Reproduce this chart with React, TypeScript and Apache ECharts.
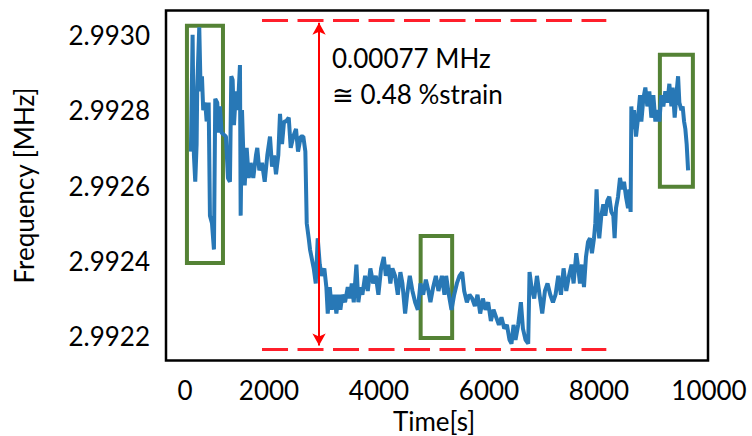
import React, { useEffect, useRef } from "react";
import * as echarts from "echarts";

// Time [s]
const times = [
  580, 611, 635, 659, 684, 695, 732, 757, 781, 804,
  841, 866, 903, 926, 963, 999, 1023, 1059, 1085, 1108,
  1139, 1217, 1254, 1290, 1314, 1339, 1363, 1399, 1423, 1449,
  1472, 1485, 1509, 1532, 1558, 1594, 1631, 1667, 1714, 1763,
  1787, 1824, 1873, 1922, 1969, 2018, 2055, 2091, 2127, 2169,
  2200, 2237, 2273, 2309, 2359, 2395, 2442, 2491, 2528, 2577,
  2624, 2661, 2686, 2722, 2746,
  2813, 2850, 2886, 2923, 2959, 3006, 3043, 3068, 3105, 3141,
  3188, 3225, 3261, 3298, 3334, 3383, 3432, 3469, 3505, 3541,
  3589, 3625, 3661, 3698, 3747, 3796, 3843, 3893, 3942, 3989,
  4038, 4087, 4124, 4171, 4207, 4244, 4293, 4342, 4389, 4426,
  4475, 4511, 4560, 4608, 4657, 4706, 4753, 4803, 4852, 4899,
  4935, 4985, 5034, 5081, 5143, 5190,
  5221, 5270, 5318, 5367, 5416, 5463, 5512, 5549, 5598, 5645,
  5694, 5743, 5791, 5840, 5889, 5936, 5985, 6034, 6082, 6131,
  6180, 6227, 6277, 6326, 6373, 6409, 6446, 6482, 6531, 6580,
  6617, 6664, 6713, 6737, 6773, 6822, 6872, 6919, 6968, 7017,
  7064, 7114, 7163, 7210, 7259, 7308, 7356, 7405, 7454, 7501,
  7538, 7587, 7623,
  7654, 7691, 7727, 7763, 7800, 7836, 7872, 7909, 7933, 7956,
  7982, 8005, 8042, 8078, 8115, 8151, 8187, 8224, 8260, 8284,
  8309, 8346, 8382, 8418, 8455, 8491, 8528, 8551, 8575, 8588,
  8611, 8637, 8673, 8710, 8746, 8770, 8806, 8843, 8879, 8915,
  8952, 8988, 9025, 9061, 9097, 9134, 9170, 9206, 9243, 9279,
  9316, 9339, 9376, 9412, 9438, 9461, 9498, 9521, 9547, 9570,
  9594, 9620,
];

// Frequency [MHz]
const freqs = [
  2.99269, 2.993, 2.99268, 2.99261, 2.99271, 2.99286, 2.99302, 2.99285, 2.99289, 2.9928,
  2.99282, 2.99277, 2.99282, 2.99252, 2.9925, 2.99243, 2.99283, 2.99282, 2.99274, 2.99281,
  2.99274, 2.99273, 2.99262, 2.99261, 2.99289, 2.99288, 2.99276, 2.99285, 2.9928, 2.99285,
  2.99292, 2.99252, 2.9928, 2.99269, 2.9926, 2.9927, 2.99262, 2.99266, 2.99262, 2.99268,
  2.9927, 2.99264, 2.99266, 2.99261, 2.99268, 2.99273, 2.99265, 2.99268, 2.99263, 2.99268,
  2.99279, 2.99271, 2.99277, 2.99277, 2.99278, 2.9927, 2.99273, 2.99275, 2.99269, 2.99273,
  2.99273, 2.99269, 2.9925, 2.99246, 2.99243,
  2.99238, 2.99234, 2.99246, 2.99239, 2.99236, 2.99238, 2.99233, 2.99226, 2.99233, 2.99227,
  2.99231, 2.99226, 2.99231, 2.99227, 2.99231, 2.99229, 2.99233, 2.9923, 2.99234, 2.99229,
  2.99239, 2.99229, 2.99233, 2.99231, 2.99236, 2.99232, 2.99238, 2.99234, 2.99236, 2.99231,
  2.99238, 2.99241, 2.99236, 2.99239, 2.99234, 2.99238, 2.99236, 2.99231, 2.99237, 2.99234,
  2.99226, 2.99231, 2.99236, 2.99232, 2.99229, 2.99227, 2.99234, 2.99231, 2.99235, 2.99232,
  2.99229, 2.99233, 2.99236, 2.99232, 2.99236, 2.99231,
  2.99236, 2.99231, 2.99227, 2.99231, 2.99234, 2.99236, 2.99237, 2.99232, 2.99229, 2.99231,
  2.9923, 2.99228, 2.99231, 2.99226, 2.9923, 2.99227, 2.99229, 2.99224, 2.99227, 2.99225,
  2.99223, 2.99225, 2.99222, 2.99223, 2.99219, 2.99218, 2.99223, 2.99219, 2.99223, 2.99229,
  2.99222, 2.99219, 2.99218, 2.99237, 2.99233, 2.9923, 2.99236, 2.99231, 2.99226, 2.99232,
  2.99234, 2.99231, 2.99229, 2.99231, 2.99236, 2.99231, 2.99238, 2.99232, 2.99236, 2.99239,
  2.99234, 2.99242, 2.99238,
  2.99234, 2.99239, 2.99233, 2.99241, 2.99245, 2.99246, 2.99242, 2.99246, 2.9925, 2.99259,
  2.9925, 2.99246, 2.99252, 2.99255, 2.99252, 2.99256, 2.99257, 2.99253, 2.99252, 2.99246,
  2.99254, 2.99257, 2.99262, 2.99259, 2.99261, 2.99257, 2.99254, 2.99259, 2.99253, 2.99281,
  2.99275, 2.9928, 2.99273, 2.99278, 2.99284, 2.99277, 2.99283, 2.99286, 2.99281, 2.99285,
  2.99278, 2.99284, 2.99277, 2.9928, 2.99277, 2.99284, 2.99281, 2.99285, 2.99282, 2.99287,
  2.99281, 2.99286, 2.99278, 2.99285, 2.99289, 2.99282, 2.9928, 2.99281, 2.99277, 2.99275,
  2.99271, 2.99264,
];

// Axis ranges and tick labels
const xTicks = { min: 0, max: 10000, interval: 2000 };
const yRange = { min: 2.992134, max: 2.993066 };
const yTickValues = [2.9922, 2.9924, 2.9926, 2.9928, 2.993];

// Highlight boxes: [tStart, fTop, tEnd, fBottom]
const boxes = [
  [508, 2.993024, 1163, 2.992394],
  [4757, 2.992466, 5330, 2.992195],
  [9107, 2.992947, 9707, 2.992597],
];

// Range annotation (red)
const rangeX = [1873, 8133];
const rangeTop = 2.99304;
const rangeBottom = 2.992164;
const arrowX = 2910;
const arrowTop = 2.993032;
const arrowBottom = 2.992175;
const annotationText = "0.00077 MHz\n≅ 0.48 %strain";

const FONT = "Lato, 'Noto Sans', 'DejaVu Sans', sans-serif";

export default function App() {
  const ref = useRef<HTMLDivElement>(null);
  useEffect(() => {
    if (!ref.current) return;
    const chart = echarts.init(ref.current, undefined, { renderer: "svg" });
    const n = Math.min(times.length, freqs.length);
    const data: number[][] = [];
    for (let i = 0; i < n; i++) data.push([times[i], freqs[i]]);

    const dashStyle = { color: "#ff1f2b", width: 3, type: [26, 9.5] };

    chart.setOption({
      animation: false,
      backgroundColor: "#ffffff",
      grid: { left: 159, right: 43, top: 10, bottom: 75, outerBoundsMode: "none", containLabel: false },
      xAxis: {
        type: "value",
        min: xTicks.min,
        max: xTicks.max,
        interval: xTicks.interval,
        name: "Time[s]",
        nameLocation: "middle",
        nameGap: 46,
        nameTextStyle: { fontFamily: FONT, fontSize: 26, lineHeight: 26, color: "#000" },
        axisLine: { show: false },
        axisTick: { show: false },
        splitLine: { show: false },
        axisLabel: {
          margin: 16,
          fontFamily: FONT,
          fontSize: 26,
          color: "#000",
          formatter: (v: number) => (v === 0 ? "{z|0}" : String(v)),
          rich: {
            z: { padding: [0, 0, 0, 52], fontFamily: FONT, fontSize: 26, color: "#000" },
          },
        },
      },
      yAxis: {
        type: "value",
        min: yRange.min,
        max: yRange.max,
        name: "Frequency [MHz]",
        nameLocation: "middle",
        nameGap: 122,
        nameTextStyle: { fontFamily: FONT, fontSize: 26, color: "#000" },
        axisLine: { show: false },
        axisTick: { show: false, customValues: yTickValues },
        splitLine: { show: false },
        axisLabel: {
          margin: 9,
          fontFamily: FONT,
          fontSize: 26,
          color: "#000",
          customValues: yTickValues,
          formatter: (v: number) => v.toFixed(4),
        },
      },
      series: [
        {
          type: "line",
          data,
          clip: false,
          showSymbol: false,
          symbol: "none",
          silent: true,
          z: 2,
          lineStyle: { color: "#2878b6", width: 4 },
        },
        {
          type: "line",
          data: [],
          clip: false,
          silent: true,
          z: 4,
          markArea: {
            silent: true,
            itemStyle: { color: "rgba(0,0,0,0)", borderColor: "#548235", borderWidth: 4 },
            data: boxes.map((b) => [{ coord: [b[0], b[1]] }, { coord: [b[2], b[3]] }]),
          },
          markLine: {
            silent: true,
            symbol: "none",
            label: { show: false },
            data: [
              [
                { coord: [rangeX[0], rangeTop], lineStyle: dashStyle },
                { coord: [rangeX[1], rangeTop] },
              ],
              [
                { coord: [rangeX[0], rangeBottom], lineStyle: dashStyle },
                { coord: [rangeX[1], rangeBottom] },
              ],
              [
                {
                  coord: [arrowX, arrowTop],
                  symbol: "arrow",
                  symbolSize: [10, 12],
                  lineStyle: { color: "#ff0000", width: 2, type: "solid" },
                },
                { coord: [arrowX, arrowBottom], symbol: "arrow", symbolSize: [10, 12] },
              ],
            ],
          },
        },
      ],
      graphic: [
        {
          type: "rect",
          shape: { x: 166, y: 10.5, width: 542, height: 350 },
          style: { fill: "none", stroke: "#000", lineWidth: 2.5 },
          silent: true,
          z: 10,
        },
        {
          type: "text",
          left: 332,
          top: 40,
          style: {
            text: annotationText,
            font: `26px ${FONT}`,
            lineHeight: 36,
            fill: "#000",
          },
          silent: true,
          z: 10,
        },
      ],
    });
    return () => chart.dispose();
  }, []);
  return (
    <div
      ref={ref}
      style={{ position: "fixed", left: 0, top: 0, width: 752, height: 436, background: "#fff" }}
    />
  );
}
